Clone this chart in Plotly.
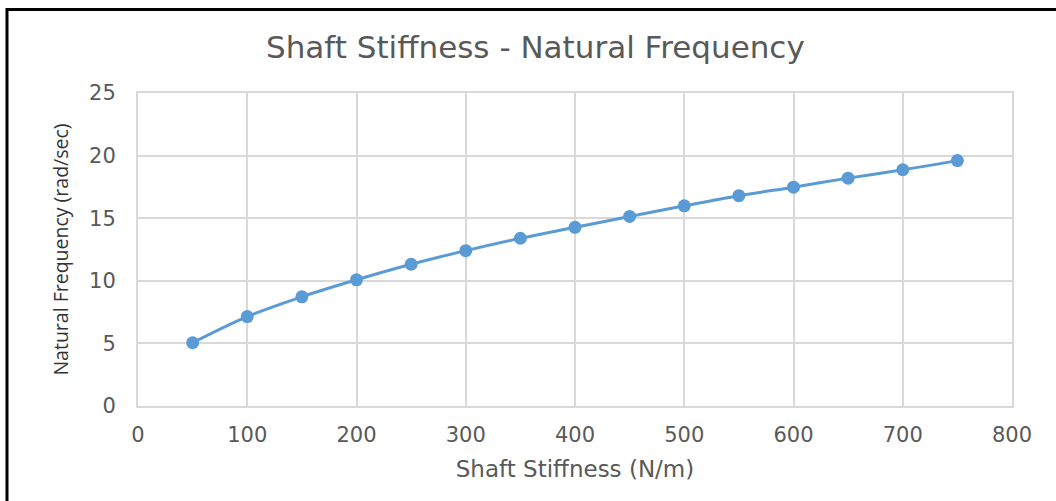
import plotly.graph_objects as go

# Shaft stiffness (N/m) and resulting natural frequency (rad/sec)
stiffness = [50, 100, 150, 200, 250, 300, 350, 400, 450, 500, 550, 600, 650, 700, 750]
frequency = [5.05, 7.14, 8.72, 10.08, 11.32, 12.41, 13.4, 14.27, 15.14, 15.99, 16.8, 17.48, 18.2, 18.87, 19.6]

x_ticks = [0, 100, 200, 300, 400, 500, 600, 700, 800]
y_ticks = [0, 5, 10, 15, 20, 25]

grey = "#595959"
grid = "#d9d9d9"
blue = "#5b9bd5"
wide = "DejaVu Sans, Verdana, sans-serif"

fig = go.Figure()
fig.add_trace(go.Scatter(
    x=stiffness, y=frequency,
    mode="lines+markers",
    line=dict(color=blue, width=3, shape="spline"),
    marker=dict(color=blue, size=13),
    showlegend=False,
))

fig.update_layout(
    width=1056, height=501,
    margin=dict(l=138, r=44, t=93, b=95),
    paper_bgcolor="white", plot_bgcolor="white",
    font=dict(family=wide, color=grey, size=18),
    title=dict(text="Shaft Stiffness - Natural Frequency", x=0.507, xanchor="center",
               y=0.905, yanchor="middle", font=dict(family=wide, size=31, color=grey)),
    xaxis=dict(range=[0, 800], tickvals=x_ticks, showgrid=True, gridcolor=grid, gridwidth=2,
               zeroline=False, showline=True, linecolor=grid, linewidth=2, mirror=True,
               ticks="", ticklen=0, ticklabelstandoff=9,
               tickfont=dict(family=wide, size=21, color=grey),
               title=dict(text="Shaft Stiffness (N/m)", font=dict(family=wide, size=23, color=grey), standoff=15)),
    yaxis=dict(range=[0, 25], tickvals=y_ticks, showgrid=True, gridcolor=grid, gridwidth=2,
               zeroline=False, showline=True, linecolor=grid, linewidth=2, mirror=True,
               ticks="", ticklabelstandoff=16,
               tickfont=dict(family=wide, size=21, color=grey),
               title=dict(text="Natural Frequency (rad/sec)",
                          font=dict(family="Open Sans, sans-serif", size=19.5, color="#333333"),
                          standoff=15)),
    shapes=[dict(type="rect", xref="paper", yref="paper",
                 x0=-0.1499, x1=1.3, y0=-0.5, y1=1.267,
                 line=dict(color="black", width=3), fillcolor="rgba(0,0,0,0)", layer="above")],
)

fig.write_html("out.html")
